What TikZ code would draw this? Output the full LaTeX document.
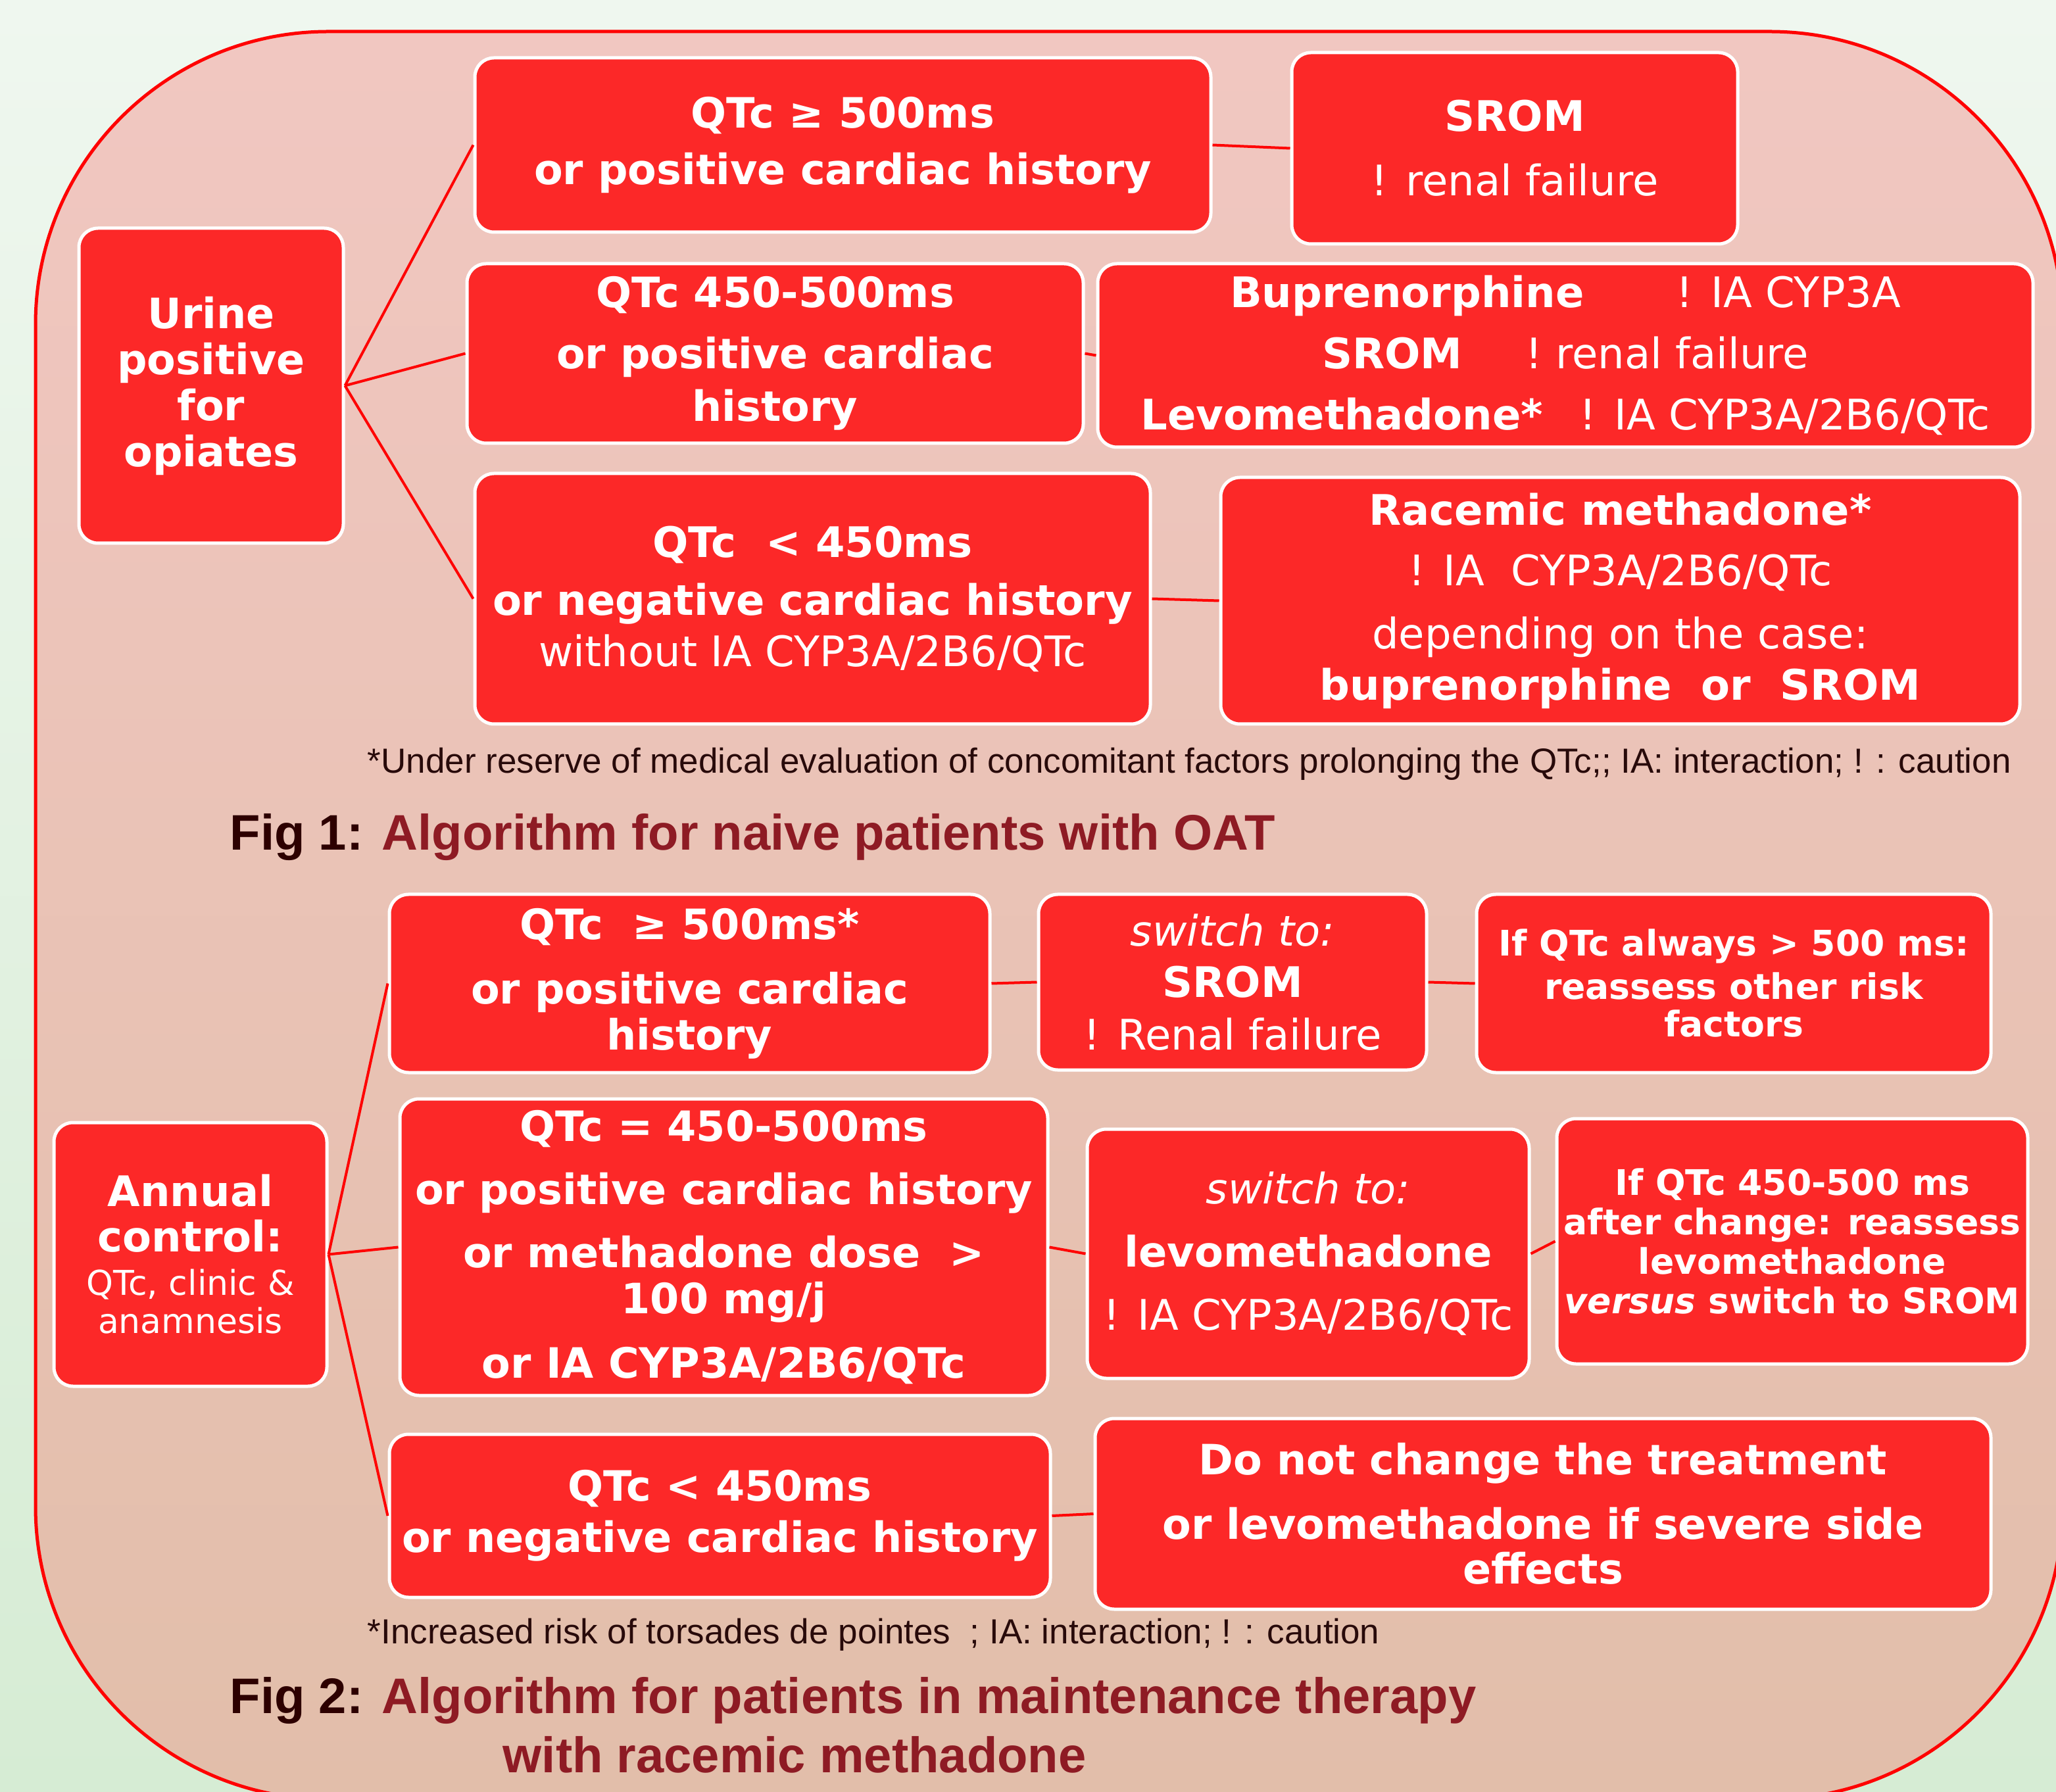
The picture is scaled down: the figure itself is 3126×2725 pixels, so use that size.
\documentclass[tikz,border=0pt]{standalone}
\usepackage{fontspec}
\setmainfont{DejaVu Sans}
\newfontfamily\notefont{Liberation Sans}

\definecolor{boxred}{RGB}{252,40,40}
\definecolor{linered}{RGB}{255,0,0}
\definecolor{conttop}{RGB}{241,199,193}
\definecolor{contbot}{RGB}{226,190,170}
\definecolor{bgtop}{RGB}{239,247,239}
\definecolor{bgbot}{RGB}{214,236,212}
\definecolor{figdark}{RGB}{45,0,0}
\definecolor{titlered}{RGB}{142,27,36}
\definecolor{notedark}{RGB}{40,10,10}

\tikzset{
    algbox/.style 2 args={draw=white, line width=1.25pt, fill=boxred, rounded corners=7.25pt,
        text=white, align=center, inner sep=0pt,
        minimum width=#1*0.25pt, minimum height=#2*0.25pt,
        font=\fontsize{16}{17.5}\selectfont},
    boldbox/.style 2 args={algbox={#1}{#2}, font=\fontsize{15.9}{17.5}\selectfont\bfseries},
    smallbox/.style 2 args={algbox={#1}{#2}, font=\fontsize{13.4}{15}\selectfont\bfseries},
    link/.style={draw=linered, line width=1pt},
    notetext/.style={font=\notefont\fontsize{13.25}{15}\selectfont, text=notedark, inner sep=0pt},
    titletext/.style={font=\notefont\bfseries\fontsize{19}{22}\selectfont, text=titlered, inner sep=0pt, align=left}
}

\begin{document}
\begin{tikzpicture}[x=0.25pt,y=0.25pt,yscale=-1,xscale=1]
    \useasboundingbox (0,0) rectangle (3126,2725);
    \clip (0,0) rectangle (3126,2725);

    %Shape: Rectangle (page background)
    \shade [top color=bgtop, bottom color=bgbot] (0,0) rectangle (3126,2725);
    %Shape: Rounded Rect (frame)
    \draw [draw=linered, line width=1.25pt, top color=conttop, bottom color=contbot, rounded corners=111.25pt] (54,48) rectangle (3136,2736);

    %% Fig 1
    % Text Node
    \draw (321,586.5) node [boldbox={402}{479}] (urine) {Urine\\positive\\for\\opiates};
    % Text Node
    \draw (1281.5,220.5) node [boldbox={1119}{265}] (qa1) {QTc ≥ 500ms\\[4pt]or positive cardiac history};
    % Text Node
    \draw (2303,225.5) node [algbox={678}{291}] (srom1) {\textbf{SROM}\\[7pt]! renal failure};
    % Text Node
    \draw (1178.5,537.5) node [boldbox={937}{273}] (qa2) {QTc 450-500ms\\[5.75pt]or positive cardiac\\[2.5pt]history};
    % Text Node
    \draw (2380,540.5) node [algbox={1422}{279}] (opt2) {\textbf{Buprenorphine}\hspace{35pt}! IA CYP3A\\[5.75pt]\textbf{SROM}\hspace{24pt}! renal failure\\[5.75pt]\textbf{Levomethadone*}\hspace{14pt}! IA CYP3A/2B6/QTc};
    % Text Node
    \draw (1235.5,910.5) node [algbox={1027}{381}] (qa3) {\textbf{QTc~~< 450ms}\\[4.5pt]\textbf{or negative cardiac history}\\[2pt]without IA CYP3A/2B6/QTc};
    % Text Node
    \draw (2463.5,913.5) node [algbox={1215}{375}] (opt3) {\textbf{Racemic methadone*}\\[5.5pt]! IA~~CYP3A/2B6/QTc\\[6.5pt]depending on the case:\\[2pt]\textbf{buprenorphine~~or~~SROM}};

    % Text Node
    \draw (558,1176) node [anchor=base west, notetext] (note1) {*Under reserve of medical evaluation of concomitant factors prolonging the QTc;; IA: interaction; ! : caution};
    % Text Node
    \draw (349,1293) node [anchor=base west, titletext] (title1) {\textcolor{figdark}{Fig 1:} Algorithm for naive patients with OAT};

    %Straight Lines
    \draw [link] (urine.east) -- (qa1.west);
    \draw [link] (urine.east) -- (qa2.west);
    \draw [link] (urine.east) -- (qa3.west);
    \draw [link] (qa1.east) -- (srom1.west);
    \draw [link] (qa2.east) -- (opt2.west);
    \draw [link] (qa3.east) -- (opt3.west);

    %% Fig 2
    % Text Node
    \draw (289.5,1907.5) node [algbox={415}{401}] (annual) {\bfseries Annual\\[-0.25pt]\bfseries control:\\[-1pt]\fontsize{13}{14.5}\selectfont QTc, clinic \&\\[-3pt]\fontsize{13}{14.5}\selectfont anamnesis};
    % Text Node
    \draw (1048.5,1495.5) node [boldbox={913}{271}] (qc1) {QTc~~≥ 500ms*\\[7pt]or positive cardiac\\history};
    % Text Node
    \draw (1874,1493.5) node [algbox={590}{267}] (sw1) {\textit{switch to:}\\[2pt]\textbf{SROM}\\[2.5pt]! Renal failure};
    % Text Node
    \draw (2636,1495.5) node [smallbox={782}{271}] (if1) {If QTc always > 500 ms:\\[1.5pt]reassess other risk\\[-0.75pt]factors};
    % Text Node
    \draw (1100.5,1896.5) node [boldbox={985}{451}] (qc2) {QTc = 450-500ms\\[6.5pt]or positive cardiac history\\[6.5pt]or methadone dose~~>\\100 mg/j\\[7pt]or IA CYP3A/2B6/QTc};
    % Text Node
    \draw (1989,1906.5) node [algbox={672}{379}] (sw2) {\textit{switch to:}\\[6.5pt]\textbf{levomethadone}\\[6.5pt]! IA CYP3A/2B6/QTc};
    % Text Node
    \draw (2725,1887.5) node [smallbox={716}{373}] (if2) {If QTc 450-500 ms\\after change: reassess\\levomethadone\\\textit{versus} switch to SROM};
    % Text Node
    \draw (1094.5,2305) node [boldbox={1005}{248}] (qc3) {QTc < 450ms\\[2pt]or negative cardiac history};
    % Text Node
    \draw (2346,2302) node [boldbox={1362}{290}] (keep3) {Do not change the treatment\\[7pt]or levomethadone if severe side\\[-0.5pt]effects};

    % Text Node
    \draw (558,2499) node [anchor=base west, notetext] (note2) {*Increased risk of torsades de pointes~~; IA: interaction; ! : caution};
    % Text Node
    \draw (349,2550) node [anchor=north west, titletext] (title2) {\textcolor{figdark}{Fig 2:} Algorithm for patients in maintenance therapy\\[0.5pt]\hspace*{103.75pt}with racemic methadone};

    %Straight Lines
    \draw [link] (annual.east) -- (qc1.west);
    \draw [link] (annual.east) -- (qc2.west);
    \draw [link] (annual.east) -- (qc3.west);
    \draw [link] (qc1.east) -- (sw1.west);
    \draw [link] (sw1.east) -- (if1.west);
    \draw [link] (qc2.east) -- (sw2.west);
    \draw [link] (sw2.east) -- (if2.west);
    \draw [link] (qc3.east) -- (keep3.west);

\end{tikzpicture}
\end{document}
